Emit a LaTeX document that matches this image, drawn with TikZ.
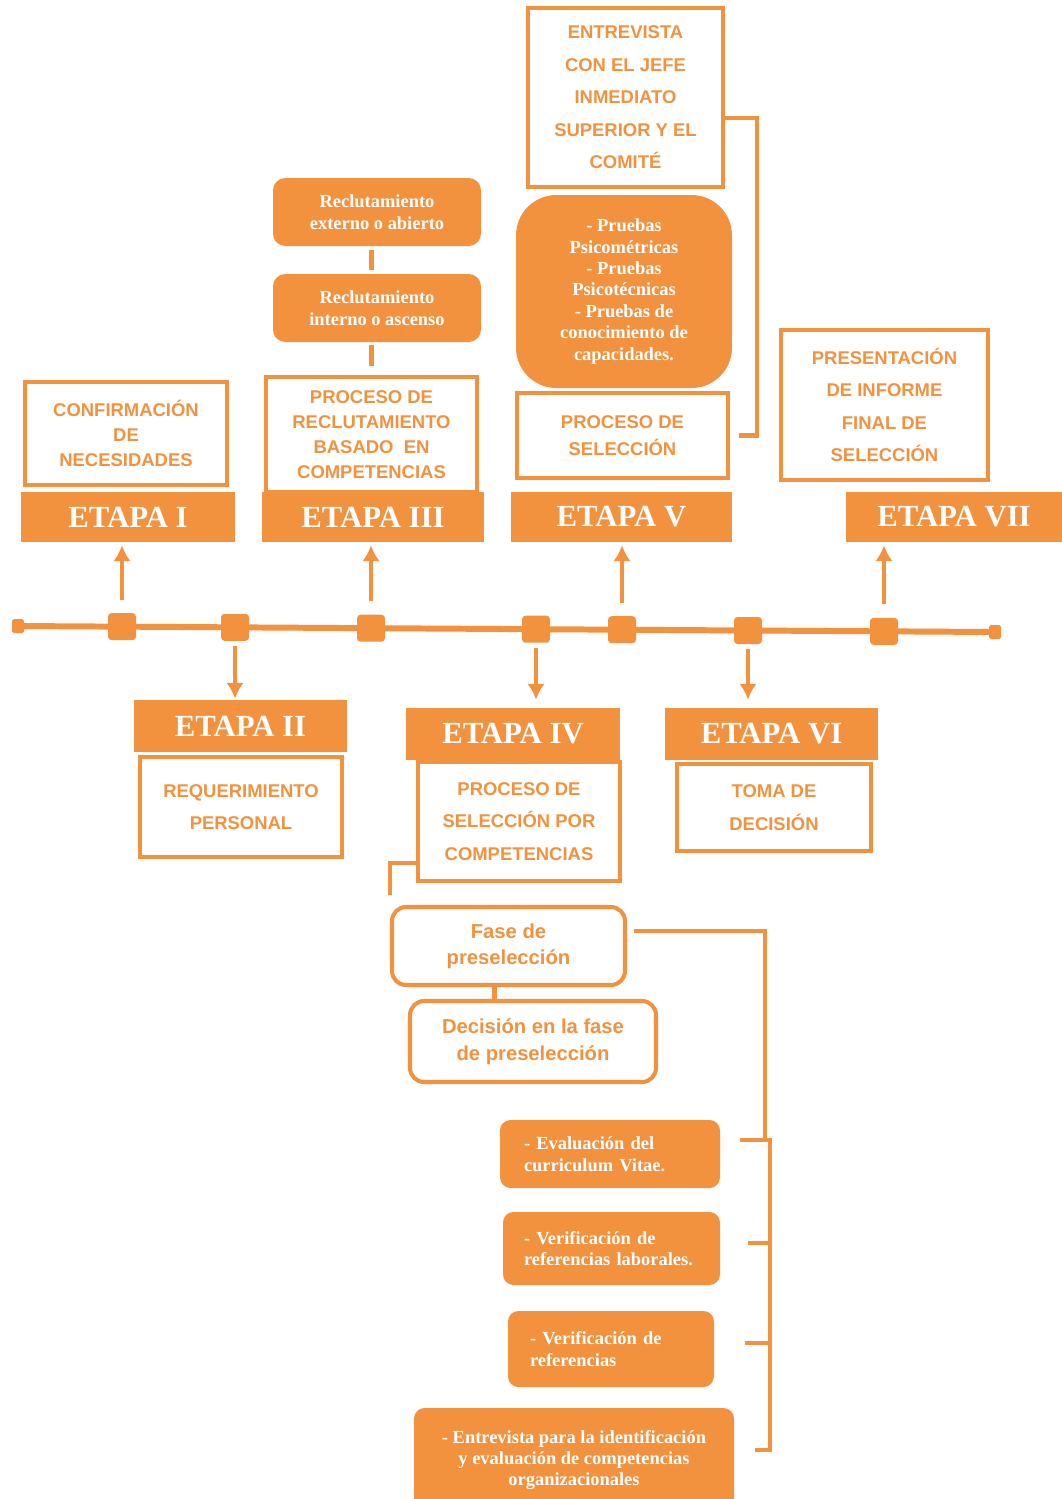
\documentclass[tikz,border=0pt]{standalone}
\usepackage{fontspec}
\setmainfont{Liberation Serif}
\newfontfamily\cajafont{Liberation Sans}
\usetikzlibrary{arrows.meta, positioning}
\newlength{\px}
\setlength{\px}{0.02cm}
\definecolor{naranja}{RGB}{242,146,62}
\tikzset{etapa/.style={fill=naranja, text=white, font=\bfseries\fontsize{17.5}{20}\selectfont, minimum width=214\px, minimum height=50\px, inner sep=0pt}}
\tikzset{caja/.style={draw=naranja, line width=2.3pt, fill=white, text=naranja, font=\cajafont\bfseries\fontsize{10.5}{14.2}\selectfont, align=center, inner sep=0pt}}
\tikzset{cajaalta/.style={caja, font=\cajafont\bfseries\fontsize{10.5}{18.5}\selectfont}}
\tikzset{fase/.style={caja, rounded corners=8pt, font=\cajafont\bfseries\fontsize{11.5}{15}\selectfont}}
\tikzset{relleno/.style={fill=naranja, text=white, font=\bfseries\fontsize{10.5}{12.2}\selectfont, rounded corners=6pt, inner sep=0pt}}
\tikzset{marca/.style={fill=naranja, rounded corners=2pt, minimum width=28\px, minimum height=27\px, inner sep=0pt}}
\tikzset{extremo/.style={fill=naranja, rounded corners=1pt, minimum width=12\px, minimum height=14\px, inner sep=0pt}}
\tikzset{link/.style={draw=naranja, line width=2.3pt}}
\tikzset{flecha/.style={link, -{Latex[length=9pt, width=10pt]}}}

\begin{document}
\begin{tikzpicture}[x=\px, y=-\px]
	\useasboundingbox (0,0) rectangle (1062,1499);
	
	%%% NODES %%%
	
	% TIMELINE
	\coordinate (ini) at (18,626);
	\coordinate (fin) at (995,632);
	\draw[draw=naranja, line width=3.4pt] (ini) -- (fin);
	\node[extremo] at (ini) (extini) {};
	\node[extremo] at (fin) (extfin) {};
	\node[marca] at (122,626.6) (m1) {};
	\node[marca] at (235,627.3) (m2) {};
	\node[marca] at (371,628.2) (m3) {};
	\node[marca] at (536,629.2) (m4) {};
	\node[marca] at (622,629.7) (m5) {};
	\node[marca] at (748,630.5) (m6) {};
	\node[marca] at (884,631.3) (m7) {};
	
	% ETAPA I
	\node[caja, minimum width=202\px, minimum height=103\px] at (126,433.5) (confirm) {CONFIRMACIÓN\\DE\\NECESIDADES};
	\node[etapa] at (128,517) (etapa1) {ETAPA I};
	
	% ETAPA III
	\node[relleno, rounded corners=7pt, minimum width=208\px, minimum height=68\px, align=center] at (377,212) (externo) {Reclutamiento\\externo o abierto};
	\node[relleno, rounded corners=7pt, minimum width=208\px, minimum height=68\px, align=center] at (377,308) (interno) {Reclutamiento\\interno o ascenso};
	\node[caja, minimum width=211\px, minimum height=115\px] at (371.5,434.5) (reclut) {PROCESO DE\\RECLUTAMIENTO\\BASADO\ \ EN\\COMPETENCIAS};
	\node[etapa, minimum width=222\px] at (373,517) (etapa3) {ETAPA III};
	
	% ETAPA V
	\node[cajaalta, minimum width=195\px, minimum height=179\px] at (625.5,97.5) (entrev) {ENTREVISTA\\CON EL JEFE\\INMEDIATO\\SUPERIOR Y EL\\COMITÉ};
	\node[relleno, rounded corners=23pt, minimum width=216\px, minimum height=193\px, align=center] at (624,291.5) (pruebas) {- Pruebas\\Psicométricas\\- Pruebas\\Psicotécnicas\\- Pruebas de\\conocimiento de\\capacidades.};
	\node[caja, font=\cajafont\bfseries\fontsize{10.5}{15}\selectfont, minimum width=211\px, minimum height=85\px] at (622.5,435.5) (procsel) {PROCESO DE\\SELECCIÓN};
	\node[etapa, minimum width=221\px] at (621.5,517) (etapa5) {ETAPA V};
	
	% ETAPA VII
	\node[cajaalta, minimum width=207\px, minimum height=150\px] at (884.5,405) (present) {PRESENTACIÓN\\DE INFORME\\FINAL DE\\SELECCIÓN};
	\node[etapa, minimum width=216\px] at (954,517) (etapa7) {ETAPA VII};
	
	% ETAPA II
	\node[etapa, minimum width=213\px, minimum height=52\px] at (240.5,726) (etapa2) {ETAPA II};
	\node[cajaalta, minimum width=202\px, minimum height=100\px] at (241,807) (requer) {REQUERIMIENTO\\PERSONAL};
	
	% ETAPA IV
	\node[etapa, minimum height=52\px] at (513,734) (etapa4) {ETAPA IV};
	\node[cajaalta, minimum width=202\px, minimum height=119\px] at (519,821.5) (procIV) {PROCESO DE\\SELECCIÓN POR\\COMPETENCIAS};
	\node[fase, minimum width=233\px, minimum height=78\px] at (508.5,946) (preselec) {Fase de\\preselección};
	\node[fase, minimum width=246\px, minimum height=81\px] at (533,1041.5) (decision) {Decisión en la fase\\de preselección};
	\node[relleno, minimum width=220\px, minimum height=68\px, text width=172\px, align=left] at (610,1154) (evalcv) {- Evaluación del\\curriculum Vitae.};
	\node[relleno, minimum width=217\px, minimum height=73\px, text width=175\px, align=left] at (611.5,1248.5) (verlab) {- Verificación de\\referencias laborales.};
	\node[relleno, minimum width=206\px, minimum height=76\px, text width=162\px, align=left] at (611,1349) (verref) {- Verificación de\\referencias};
	\node[relleno, minimum width=320\px, minimum height=104\px, align=center] at (574,1460) (entpara) {- Entrevista para la identificación\\y evaluación de competencias\\organizacionales};
	
	% ETAPA VI
	\node[etapa, minimum width=213\px, minimum height=52\px] at (771.5,734) (etapa6) {ETAPA VI};
	\node[cajaalta, minimum width=194\px, minimum height=87\px] at (774,807.5) (toma) {TOMA DE\\DECISIÓN};
	
	%%% ARROWS %%%
	
	% TIMELINE TO STAGES
	\draw[flecha, shorten <=13\px, shorten >=3\px] (m1.north) -- (m1.north |- etapa1.south);
	\draw[flecha, shorten <=13\px, shorten >=3\px] (m3.north) -- (m3.north |- etapa3.south);
	\draw[flecha, shorten <=13\px, shorten >=3\px] (m5.north) -- (m5.north |- etapa5.south);
	\draw[flecha, shorten <=13\px, shorten >=3\px] (m7.north) -- (m7.north |- etapa7.south);
	\draw[flecha, shorten <=5\px, shorten >=1\px] (m2.south) -- (m2.south |- etapa2.north);
	\draw[flecha, shorten <=5\px, shorten >=8\px] (m4.south) -- (m4.south |- etapa4.north);
	\draw[flecha, shorten <=5\px, shorten >=8\px] (m6.south) -- (m6.south |- etapa6.north);
	
	% RECLUTAMIENTO
	\draw[link, shorten <=4\px, shorten >=4\px] (externo.south -| reclut) -- (interno.north -| reclut);
	\draw[link, shorten <=3\px, shorten >=9\px] (interno.south -| reclut) -- (reclut.north);
	
	% SELECCION
	\draw[link] ([yshift=-20.5\px]entrev.east) -- ++(32\px,0) |- ([xshift=9\px]procsel.east);
	
	% PRESELECCION
	\draw[link] ([yshift=-41.5\px]procIV.west) -| ([yshift=10\px]preselec.north west);
	\draw[link] ([xshift=-14\px]preselec.south) -- ([xshift=-14\px]preselec.south |- decision.north);
	\draw[link] ([xshift=7\px, yshift=15\px]preselec.east) -| ([xshift=45\px, yshift=14\px]evalcv.east) -- ([xshift=20\px, yshift=14\px]evalcv.east);
	\draw[link] ([xshift=20\px, yshift=14\px]evalcv.east) -- ++(30\px,0) |- ([xshift=21\px, yshift=10\px]entpara.east);
	\draw[link] ([xshift=28\px, yshift=5.5\px]verlab.east) -- ++(22\px,0);
	\draw[link] ([xshift=31\px, yshift=6\px]verref.east) -- ++(25\px,0);
	
\end{tikzpicture}
\end{document}
